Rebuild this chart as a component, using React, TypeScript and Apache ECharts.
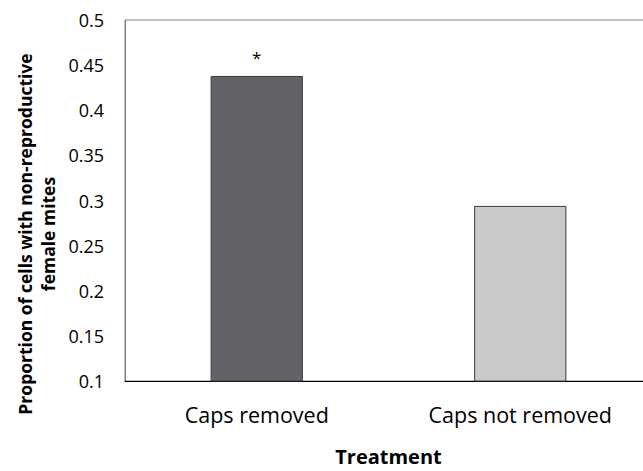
import React, { useEffect, useRef } from "react";
import * as echarts from "echarts";

const categories = ["Caps removed", "Caps not removed"];
const values = [0.438, 0.294];
const barColors = ["#626366", "#c8c9cb"];
const significance = ["*", ""];
const yTicks = { min: 0.1, max: 0.5, interval: 0.05 };
const yTitle = "Proportion of cells with non-reproductive\nfemale mites";
const xTitle = "Treatment";

const FONT = "'Open Sans', sans-serif";

export default function App() {
  const ref = useRef<HTMLDivElement>(null);
  useEffect(() => {
    if (!ref.current) return;
    const chart = echarts.init(ref.current, null, { renderer: "svg" });
    chart.setOption({
      animation: false,
      backgroundColor: "#ffffff",
      textStyle: { fontFamily: FONT },
      grid: {
        left: 125,
        top: 20,
        width: 527,
        height: 361,
        outerBoundsMode: "none",
        containLabel: false,
        show: true,
        borderColor: "#808080",
        borderWidth: 1,
        backgroundColor: "transparent",
      },
      xAxis: {
        type: "category",
        data: categories,
        axisTick: { show: false },
        axisLine: { show: true, lineStyle: { color: "#000000", width: 1 } },
        axisLabel: { fontSize: 21.5, color: "#000000", margin: 22, fontFamily: FONT },
        name: xTitle,
        nameLocation: "middle",
        nameGap: 65,
        nameTextStyle: {
          fontSize: 20,
          lineHeight: 20,
          fontWeight: "bold",
          color: "#000000",
          fontFamily: FONT,
        },
      },
      yAxis: {
        type: "value",
        min: yTicks.min,
        max: yTicks.max,
        interval: yTicks.interval,
        splitLine: { show: false },
        axisTick: { show: false },
        axisLine: { show: true, lineStyle: { color: "#808080", width: 1 } },
        axisLabel: {
          fontSize: 18,
          color: "#000000",
          margin: 21,
          fontFamily: FONT,
          formatter: (v: number) => String(+v.toFixed(2)),
        },
      },
      series: [
        {
          type: "bar",
          barWidth: "35%",
          data: values.map((v, i) => ({
            value: v,
            itemStyle: { color: barColors[i], borderColor: "#3a3a3a", borderWidth: 1 },
            label: {
              show: significance[i] !== "",
              position: "top",
              distance: 10,
              formatter: significance[i],
              fontSize: 17,
              color: "#000000",
              fontFamily: FONT,
            },
          })),
        },
      ],
      graphic: [
        {
          type: "text",
          x: 36,
          y: 234,
          rotation: Math.PI / 2,
          style: {
            text: yTitle,
            fontSize: 17.5,
            fontWeight: "bold",
            fontFamily: FONT,
            fill: "#000000",
            textAlign: "center",
            textVerticalAlign: "middle",
            lineHeight: 23,
          },
        },
      ],
    });
    return () => chart.dispose();
  }, []);
  return <div ref={ref} style={{ width: 643, height: 471, position: "absolute", left: 0, top: 0 }} />;
}
